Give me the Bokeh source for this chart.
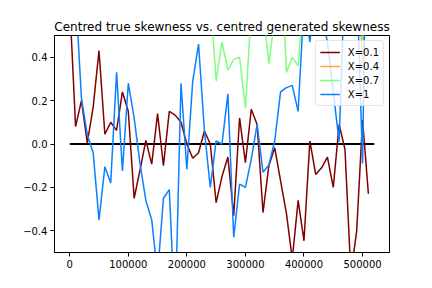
from bokeh.plotting import figure
from bokeh.models import Range1d, FixedTicker, Legend, LegendItem
from bokeh.embed import file_html
from bokeh.resources import INLINE

x_vals = list(range(0, 520000, 10000))
zero_x = [0, 520000]
zero_y = [0, 0]

red_vals = [0.65, 0.08, 0.2, 0.005, 0.17, 0.43, 0.045, 0.1, 0.063, 0.24,
            0.15, -0.25, -0.12, 0.017, -0.093, 0.14, -0.10, 0.15, 0.133, 0.10,
            0.0, -0.066, -0.04, 0.06, 0.0, -0.27, -0.15, -0.06, -0.33, 0.12,
            -0.086, 0.16, 0.09, -0.316, -0.1, -0.017, -0.17, -0.32, -0.53, -0.26,
            -0.446, 0.014, -0.14, -0.11, -0.06, -0.2, 0.09, -0.025, -0.6, -0.4,
            0.11, -0.23]

orange_vals = [1.4, 1.2, 1.1, 0.9, 1.3, 1.0, 0.95, 1.2, 0.85, 1.1,
               1.3, 0.9, 1.0, 1.15, 0.8, 1.25, 0.95, 1.05, 0.9, 1.2,
               1.0, 0.85, 1.1, 0.95, 1.0, 0.8, 1.15, 0.9, 1.0, 0.85,
               1.1, 0.95, 1.2, 0.9, 1.0, 0.85, 1.05, 0.95, 1.1, 0.9,
               1.0, 0.85, 1.2, 0.95, 1.0, 0.9, 1.1, 0.85, 1.0, 0.9,
               0.37, 1.0]

green_vals = [1.3, 1.1, 1.0, 0.9, 1.2, 0.95, 0.85, 1.1, 0.8, 1.0,
              1.2, 0.85, 0.9, 1.05, 0.75, 1.1, 0.9, 0.95, 0.8, 1.0,
              0.9, 0.8, 0.95, 0.85, 0.68, 0.29, 0.47, 0.34, 0.39, 0.40,
              0.165, 0.62, 0.8, 0.62, 0.37, 0.58, 0.9, 0.33, 0.40, 0.36,
              0.7, 0.85, 0.9, 0.8, 0.95, 0.85, 0.9, 0.8, 0.85, 0.7,
              0.48, 0.9]

blue_vals = [1.2, 0.70, 0.21, 0.044, -0.04, -0.35, -0.105, -0.18, 0.33, -0.124,
             0.28, 0.12, -0.09, -0.26, -0.35, -0.6, -0.25, -0.21, -0.8, 0.28,
             -0.116, 0.29, 0.46, 0.06, -0.2, 0.014, 0.0, 0.23, -0.43, -0.185,
             -0.2, -0.07, 0.09, -0.13, -0.097, 0.014, 0.24, 0.26, 0.27, 0.15,
             0.65, 0.47, 0.7, 0.6, 0.47, 0.24, 0.01, 0.8, 1.0, 0.77,
             -0.09, 1.8]

series_labels = ["X=0.1", "X=0.4", "X=0.7", "X=1"]
series_colors = ["#800000", "#ffa53a", "#7fff7f", "#0a7fff"]
y_ticks = [-0.4, -0.2, 0.0, 0.2, 0.4]
y_tick_labels = ["\u22120.4", "\u22120.2", "0.0", "0.2", "0.4"]
x_ticks = [0, 100000, 200000, 300000, 400000, 500000]
x_tick_labels = ["0", "100000", "200000", "300000", "400000", "500000"]

FONT = "DejaVu Sans"

p = figure(width=424, height=280, frame_width=335, frame_height=217,
           output_backend="svg", toolbar_location=None,
           x_range=Range1d(-26000, 546000), y_range=Range1d(-0.5, 0.5),
           min_border_left=54, min_border_right=35, min_border_top=35,
           min_border_bottom=28,
           title="Centred true skewness vs. centred generated skewness")

p.title.text_font = FONT
p.title.text_font_size = "12px"
p.title.text_font_style = "normal"
p.title.align = "center"
p.title.standoff = 3
p.title.text_color = "black"

p.xgrid.visible = False
p.ygrid.visible = False
p.outline_line_color = "black"
p.outline_line_width = 1
p.outline_line_alpha = 1
p.background_fill_color = "white"
p.border_fill_color = "white"

for ax in (p.xaxis[0], p.yaxis[0]):
    ax.axis_line_color = "black"
    ax.axis_line_width = 1
    ax.major_tick_line_color = "black"
    ax.major_tick_line_width = 1
    ax.major_tick_in = 0
    ax.major_tick_out = 4
    ax.minor_tick_line_color = None
    ax.major_label_text_font = FONT
    ax.major_label_text_font_size = "10px"
    ax.major_label_text_color = "black"
    ax.major_label_standoff = 3

p.xaxis.ticker = FixedTicker(ticks=x_ticks)
p.xaxis.major_label_overrides = {t: l for t, l in zip(x_ticks, x_tick_labels)}
p.yaxis.ticker = FixedTicker(ticks=y_ticks)
p.yaxis.major_label_overrides = {t: l for t, l in zip(y_ticks, y_tick_labels)}

p.line(zero_x, zero_y, line_color="black", line_width=2)

renderers = []
for vals, col in zip([red_vals, orange_vals, green_vals, blue_vals], series_colors):
    r = p.line(x_vals, vals, line_color=col, line_width=1.5)
    renderers.append(r)

legend = Legend(items=[LegendItem(label=lab, renderers=[r])
                       for lab, r in zip(series_labels, renderers)],
                location="top_right")
legend.margin = 5
legend.padding = 4
legend.spacing = 0
legend.glyph_width = 20
legend.glyph_height = 14
legend.label_height = 14
legend.label_standoff = 8
legend.label_text_font = FONT
legend.label_text_font_size = "10px"
legend.label_text_color = "black"
legend.border_line_color = "#cccccc"
legend.border_line_width = 1
legend.border_radius = 3
legend.background_fill_color = "white"
legend.background_fill_alpha = 0.8
p.add_layout(legend, "center")

open("out.html", "w").write(file_html(p, INLINE))
